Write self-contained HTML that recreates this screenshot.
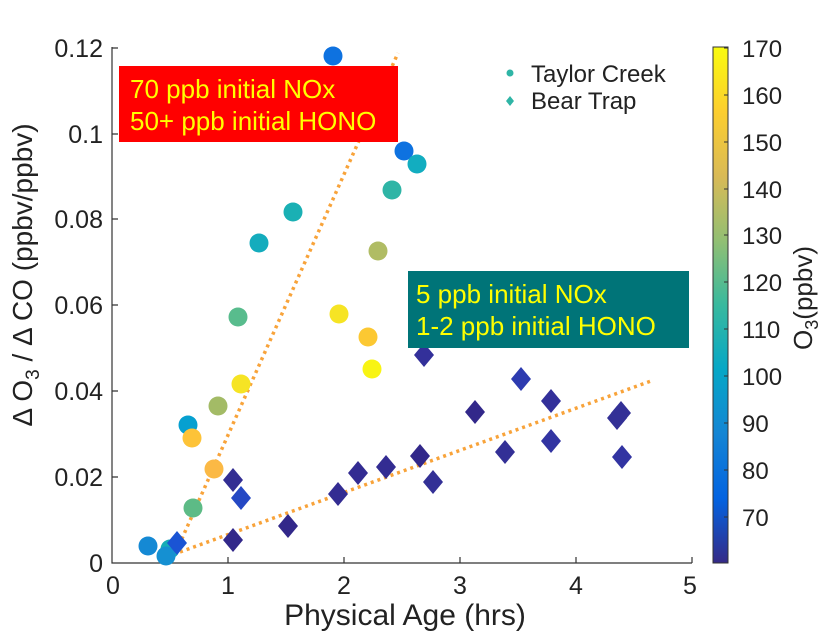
<!DOCTYPE html>
<html><head><meta charset="utf-8"><style>
html,body{margin:0;padding:0;background:#fff;}
svg{display:block;font-family:"Liberation Sans",sans-serif;}
</style></head><body>
<svg width="831" height="631" viewBox="0 0 831 631" xmlns="http://www.w3.org/2000/svg">
<defs>
<linearGradient id="par" x1="0" y1="1" x2="0" y2="0">
<stop offset="0" stop-color="#352a87"/><stop offset="0.125" stop-color="#0363e1"/><stop offset="0.25" stop-color="#1485d4"/><stop offset="0.375" stop-color="#06a7c6"/><stop offset="0.5" stop-color="#38b99e"/><stop offset="0.625" stop-color="#92bf73"/><stop offset="0.75" stop-color="#d9ba56"/><stop offset="0.875" stop-color="#fcce2e"/><stop offset="1" stop-color="#f9fb0e"/>
</linearGradient>
</defs>
<g stroke="#333" stroke-width="1.2" fill="none">
<path d="M112,47 V563 H692"/>
<path d="M112,48h6 M112,134h6 M112,219h6 M112,305h6 M112,391h6 M112,477h6"/>
<path d="M228,563v-6 M344,563v-6 M460,563v-6 M576,563v-6 M692,563v-6"/>
</g>
<g font-size="25" fill="#222" text-anchor="end">
<text x="103" y="57">0.12</text><text x="103" y="143">0.1</text><text x="103" y="228">0.08</text><text x="103" y="314">0.06</text><text x="103" y="400">0.04</text><text x="103" y="486">0.02</text><text x="103" y="572">0</text>
</g>
<g font-size="25" fill="#222" text-anchor="middle">
<text x="113" y="594">0</text><text x="228" y="594">1</text><text x="344" y="594">2</text><text x="460" y="594">3</text><text x="576" y="594">4</text><text x="690" y="594">5</text>
</g>
<text x="405" y="625" font-size="30" fill="#222" text-anchor="middle">Physical Age (hrs)</text>
<text transform="translate(32,275) rotate(-90)" font-size="28" fill="#222" text-anchor="middle">Δ O<tspan font-size="19" dy="7">3</tspan><tspan dy="-7"> / Δ CO (ppbv/ppbv)</tspan></text>

<g stroke="#f8a33a" stroke-width="3.5" stroke-dasharray="3,4" fill="none">
<line x1="176" y1="552" x2="398" y2="53"/>
<line x1="180" y1="552" x2="651" y2="381"/>
</g>

<g>
<circle cx="333" cy="56" r="9.5" fill="#0e72e0"/>
<circle cx="404" cy="151" r="9.5" fill="#0e72e0"/>
<circle cx="417" cy="164" r="9.5" fill="#12adc0"/>
<circle cx="392" cy="190" r="9.5" fill="#2fb5a6"/>
<circle cx="293" cy="212" r="9.5" fill="#1ab0b4"/>
<circle cx="259" cy="243" r="9.5" fill="#14acbd"/>
<circle cx="378" cy="251" r="9.5" fill="#b0bc64"/>
<circle cx="238" cy="317" r="9.5" fill="#58bc8d"/>
<circle cx="339" cy="314" r="9.5" fill="#f6e424"/>
<circle cx="368" cy="337" r="9.5" fill="#fcc832"/>
<circle cx="372" cy="369" r="9.5" fill="#f8f414"/>
<circle cx="241" cy="384" r="9.5" fill="#f6e424"/>
<circle cx="218" cy="406" r="9.5" fill="#a3bb66"/>
<circle cx="188" cy="425" r="9.5" fill="#06a0d0"/>
<circle cx="192" cy="438" r="9.5" fill="#fdc338"/>
<circle cx="214" cy="469" r="9.5" fill="#fbb945"/>
<circle cx="193" cy="508" r="9.5" fill="#5dbb86"/>
<circle cx="148" cy="546" r="9.5" fill="#1589d4"/>
<circle cx="170" cy="549" r="9.5" fill="#16adb6"/>
<circle cx="166" cy="556" r="9.5" fill="#1590d2"/>
</g>
<g>
<path d="M177,531l10,12l-10,12l-10,-12z" fill="#1a54d4"/>
<path d="M233,528l10,12l-10,12l-10,-12z" fill="#32288a"/>
<path d="M233,468l10,12l-10,12l-10,-12z" fill="#332e93"/>
<path d="M241,486l10,12l-10,12l-10,-12z" fill="#2548c4"/>
<path d="M288,514l10,12l-10,12l-10,-12z" fill="#32288a"/>
<path d="M338,482l10,12l-10,12l-10,-12z" fill="#332c92"/>
<path d="M358,461l10,12l-10,12l-10,-12z" fill="#332c92"/>
<path d="M386,455l10,12l-10,12l-10,-12z" fill="#332c92"/>
<path d="M420,444l10,12l-10,12l-10,-12z" fill="#32288a"/>
<path d="M433,470l10,12l-10,12l-10,-12z" fill="#333096"/>
<path d="M424,343l10,12l-10,12l-10,-12z" fill="#33309a"/>
<path d="M475,400l10,12l-10,12l-10,-12z" fill="#32288a"/>
<path d="M505,440l10,12l-10,12l-10,-12z" fill="#333096"/>
<path d="M521,367l10,12l-10,12l-10,-12z" fill="#2d3bb0"/>
<path d="M551,389l10,12l-10,12l-10,-12z" fill="#33309a"/>
<path d="M551,429l10,12l-10,12l-10,-12z" fill="#3234a2"/>
<path d="M617,406l10,12l-10,12l-10,-12z" fill="#333096"/>
<path d="M621,401l10,12l-10,12l-10,-12z" fill="#333096"/>
<path d="M622,445l10,12l-10,12l-10,-12z" fill="#3234a2"/>
</g>

<rect x="119" y="66" width="279" height="76" fill="#ff0000"/>
<text x="130" y="98" font-size="26" fill="#ffff00">70 ppb initial NOx</text>
<text x="130" y="130" font-size="26" fill="#ffff00">50+ ppb initial HONO</text>
<rect x="408" y="271" width="281" height="77" fill="#007478"/>
<text x="416" y="303" font-size="26" fill="#ffff00">5 ppb initial NOx</text>
<text x="416" y="335" font-size="26" fill="#ffff00">1-2 ppb initial HONO</text>

<circle cx="510" cy="73" r="3.5" fill="#2fb5a6"/>
<text x="531" y="82" font-size="24" fill="#222">Taylor Creek</text>
<path d="M510,96l4,5l-4,5l-4,-5z" fill="#2fb5a6"/>
<text x="531" y="109" font-size="24" fill="#222">Bear Trap</text>

<rect x="713" y="47" width="15" height="516" fill="url(#par)" stroke="#333" stroke-width="1"/>
<g stroke="#333" stroke-width="1">
<path d="M728,48h-4 M728,95h-4 M728,142h-4 M728,189h-4 M728,235h-4 M728,282h-4 M728,329h-4 M728,376h-4 M728,423h-4 M728,470h-4 M728,517h-4"/>
</g>
<g font-size="24" fill="#222">
<text x="742" y="57">170</text><text x="742" y="104">160</text><text x="742" y="151">150</text><text x="742" y="198">140</text><text x="742" y="244">130</text><text x="742" y="291">120</text><text x="742" y="338">110</text><text x="742" y="385">100</text><text x="742" y="432">90</text><text x="742" y="479">80</text><text x="742" y="526">70</text>
</g>
<text transform="translate(812,298) rotate(-90)" font-size="26" fill="#222" text-anchor="middle">O<tspan font-size="18" dy="6">3</tspan><tspan dy="-6">(ppbv)</tspan></text>
</svg>
</body></html>
